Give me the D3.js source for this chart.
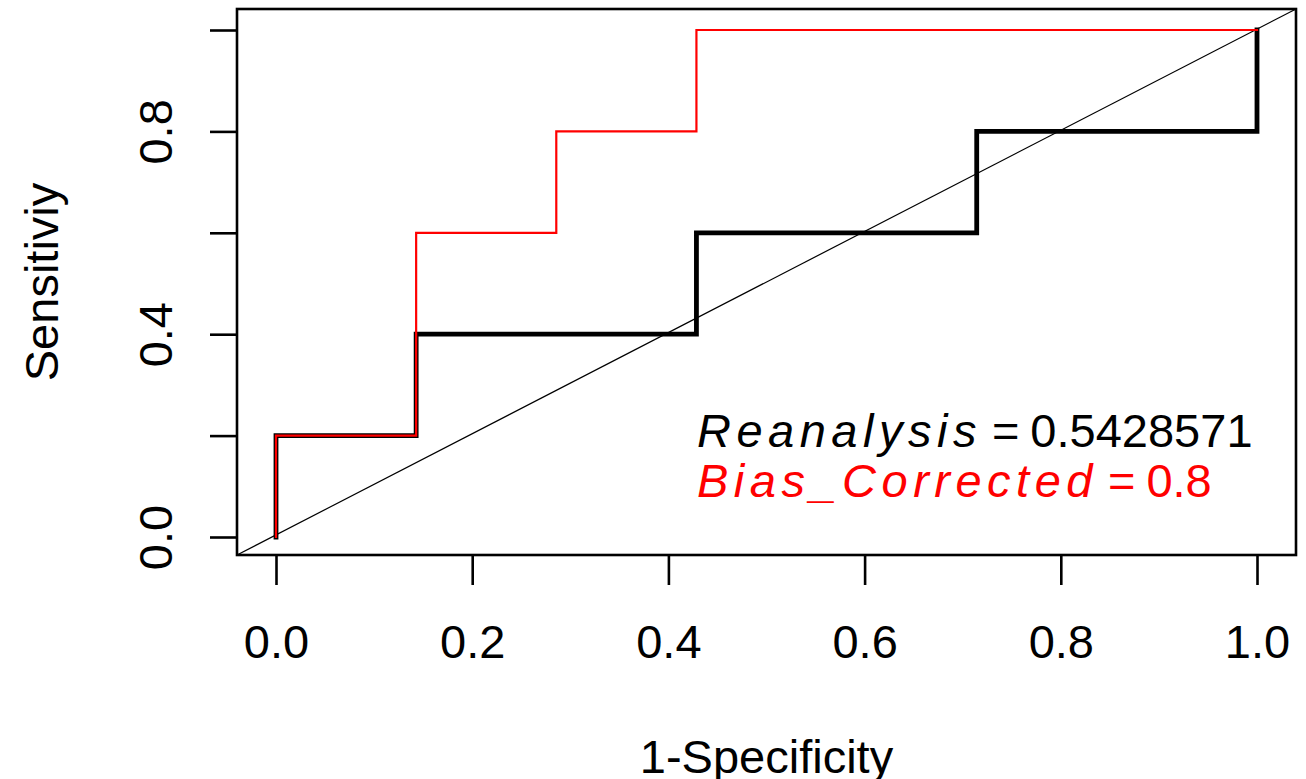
<!DOCTYPE html>
<html lang="en">
<head>
  <meta charset="UTF-8">
  <title>ROC</title>
  <style>
    body { margin: 0; background: #fff; }
    svg { display: block; font-family: "Liberation Sans", Arial, sans-serif; }
    .curve { fill: none; stroke-linejoin: miter; stroke-linecap: square; }
  </style>
</head>
<body>
  <div id="chart"></div>
  <script src="https://d3js.org/d3.v7.min.js"></script>
  <script>
    // ROC points (1-specificity, sensitivity)
    const reanalysisFpr = [0, 0, 1/7, 1/7, 3/7, 3/7, 5/7, 5/7, 1, 1];
    const reanalysisTpr = [0, 0.2, 0.2, 0.4, 0.4, 0.6, 0.6, 0.8, 0.8, 1];
    const biasFpr = [0, 0, 1/7, 1/7, 2/7, 2/7, 3/7, 3/7, 1];
    const biasTpr = [0, 0.2, 0.2, 0.6, 0.6, 0.8, 0.8, 1, 1];

    const xTicks = [0, 0.2, 0.4, 0.6, 0.8, 1.0];
    const yTicks = [0, 0.2, 0.4, 0.6, 0.8, 1.0];
    const yTickLabels = ["0.0", "", "0.4", "", "0.8", ""];

    const legendNames = ["Reanalysis", "Bias_Corrected"];
    const legendValues = ["0.5428571", "0.8"];
    const legendColors = ["#000", "#ff0000"];

    const width = 1306, height = 779;
    const box = { left: 237, top: 9, right: 1296, bottom: 555 };
    const fontSize = 47;

    // R pads the data range by 4% on each side
    const x = d3.scaleLinear().domain([0, 1]).range([276, 1257]);
    const y = d3.scaleLinear().domain([0, 1]).range([537, 30]);

    const svg = d3.select('#chart')
      .append('svg')
      .attr('width', width)
      .attr('height', height);

    // diagonal reference line across the whole plot region
    svg.append('line')
      .attr('x1', box.left).attr('y1', box.bottom)
      .attr('x2', box.right).attr('y2', box.top)
      .attr('stroke', '#000')
      .attr('stroke-width', 1.2);

    const line = d3.line()
      .x(d => x(d[0]))
      .y(d => y(d[1]));

    svg.append('path')
      .classed('curve', true)
      .attr('d', line(d3.zip(reanalysisFpr, reanalysisTpr)))
      .attr('stroke', '#000')
      .attr('stroke-width', 4.8);

    svg.append('path')
      .classed('curve', true)
      .attr('d', line(d3.zip(biasFpr, biasTpr)))
      .attr('stroke', '#ff0000')
      .attr('stroke-width', 2.2);

    // box
    svg.append('rect')
      .attr('x', box.left).attr('y', box.top)
      .attr('width', box.right - box.left)
      .attr('height', box.bottom - box.top)
      .attr('fill', 'none')
      .attr('stroke', '#000')
      .attr('stroke-width', 2.6);

    // x axis
    const xAxis = d3.axisBottom(x)
      .tickValues(xTicks)
      .tickSize(30)
      .tickPadding(0)
      .tickFormat(d3.format('.1f'));

    const gx = svg.append('g')
      .attr('transform', `translate(0,${box.bottom})`)
      .call(xAxis);
    gx.select('.domain').remove();
    gx.selectAll('.tick line').attr('stroke-width', 2.6);
    gx.selectAll('.tick text')
      .attr('y', 103)
      .attr('dy', 0)
      .attr('font-size', fontSize)
      .attr('font-family', '"Liberation Sans", Arial, sans-serif')
      .attr('fill', '#000');

    // y axis
    const yAxis = d3.axisLeft(y)
      .tickValues(yTicks)
      .tickSize(27)
      .tickFormat((d, i) => yTickLabels[i]);

    const gy = svg.append('g')
      .attr('transform', `translate(${box.left},0)`)
      .call(yAxis);
    gy.select('.domain').remove();
    gy.selectAll('.tick line').attr('stroke-width', 2.6);
    gy.selectAll('.tick text')
      .attr('x', null)
      .attr('dy', null)
      .attr('text-anchor', 'middle')
      .attr('transform', 'translate(-65,0) rotate(-90)')
      .attr('font-size', fontSize)
      .attr('font-family', '"Liberation Sans", Arial, sans-serif')
      .attr('fill', '#000');

    // axis titles (the x title runs off the bottom edge, as in the original)
    svg.append('text')
      .attr('x', (box.left + box.right) / 2)
      .attr('y', 773)
      .attr('text-anchor', 'middle')
      .attr('font-size', fontSize)
      .text('1-Specificity');

    svg.append('text')
      .attr('transform', `translate(58,${(box.top + box.bottom) / 2}) rotate(-90)`)
      .attr('text-anchor', 'middle')
      .attr('font-size', fontSize)
      .text('Sensitiviy');

    // legend: italic name = value
    const legendX = 697;
    const legendY = [447, 497];
    legendNames.forEach((name, i) => {
      const g = svg.append('g').attr('fill', legendColors[i]).attr('font-size', fontSize);
      const t1 = g.append('text')
        .attr('x', legendX).attr('y', legendY[i])
        .attr('font-style', 'italic')
        .attr('letter-spacing', 5.5)
        .text(name);
      const w1 = t1.node().getComputedTextLength();
      const t2 = g.append('text')
        .attr('x', legendX + w1 + 10).attr('y', legendY[i])
        .text('=');
      const w2 = t2.node().getComputedTextLength();
      g.append('text')
        .attr('x', legendX + w1 + 10 + w2 + 11).attr('y', legendY[i])
        .text(legendValues[i]);
    });
  </script>
</body>
</html>
